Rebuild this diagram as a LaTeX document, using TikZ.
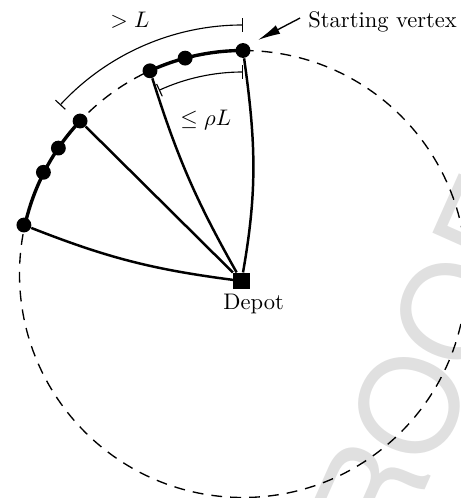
\documentclass[tikz,border=0pt]{standalone}
\usepackage{fontspec}
\newfontfamily\wmfont{TeX Gyre Heros}
\usetikzlibrary{arrows.meta}
\begin{document}
\begin{tikzpicture}[x=0.444pt,y=0.444pt,
  vtx/.style={circle,fill=black,inner sep=0pt,minimum size=6.6pt},
  depotbox/.style={rectangle,fill=black,inner sep=0pt,minimum size=7.2pt},
  route/.style={line width=1.1pt},
  tour/.style={line width=1.5pt},
  guide/.style={line width=0.6pt,dash pattern=on 4.8pt off 3.6pt},
  dimline/.style={line width=0.5pt,arrows={Bar[width=6pt]-Bar[width=6pt]}},
  lbl/.style={inner sep=0pt}]
\useasboundingbox (0,0) rectangle (461,498);
\clip (0,0) rectangle (461,498);
% watermark
\node[rotate=66, text=black!12, inner sep=0pt, font=\wmfont\fontsize{59}{59}\selectfont] (wm) at (410,93) {PROOF};
% circle
\coordinate (C) at (243,224);
\draw[guide] (C) circle[radius=223.5];
% tour arcs
\draw[tour] ([shift={(90:223.5)}]C) arc[start angle=90,end angle=114.6,radius=223.5];
\draw[tour] ([shift={(136.8:223.5)}]C) arc[start angle=136.8,end angle=167.4,radius=223.5];
% depot
\node[depotbox] (D) at (241.5,217) {};
% vertices
\node[vtx] (sv) at ([shift={(90:223.5)}]C) {};
\node[vtx] (v2) at ([shift={(105:223.5)}]C) {};
\node[vtx] (v3) at ([shift={(114.6:223.5)}]C) {};
\node[vtx] (v4) at ([shift={(136.8:223.5)}]C) {};
\node[vtx] (v5) at ([shift={(145.7:223.5)}]C) {};
\node[vtx] (v6) at ([shift={(153.0:224)}]C) {};
\node[vtx] (v7) at ([shift={(167.4:224.5)}]C) {};
% routes to depot
\draw[route] (sv) to[out=-82,in=80] (D);
\draw[route] (v3) to[bend right=6] (D);
\draw[route] (v4) -- (D);
\draw[route] (v7) to[bend right=7] (D);
% dimension arcs
\draw[dimline] ([shift={(90:249)}]C) arc[start angle=90,end angle=137.3,radius=249];
\draw[dimline] ([shift={(90:202)}]C) arc[start angle=90,end angle=114.6,radius=202];
% labels
\node[lbl, anchor=base west] (gtL) at (110,471) {$>L$};
\node[lbl, anchor=base west] (leL) at (180,373) {$\leq \rho L$};
\node[lbl, anchor=north west] (deplabel) at (223,204) {Depot};
\node[lbl, anchor=base west] (svlabel) at (308,471) {Starting vertex};
\coordinate (svarrow) at (258,458);
\draw[line width=0.6pt,-{Latex[length=10pt,width=4.2pt]}] ([xshift=-3.5pt,yshift=1.5pt]svlabel.west) -- (svarrow);
\end{tikzpicture}
\end{document}
